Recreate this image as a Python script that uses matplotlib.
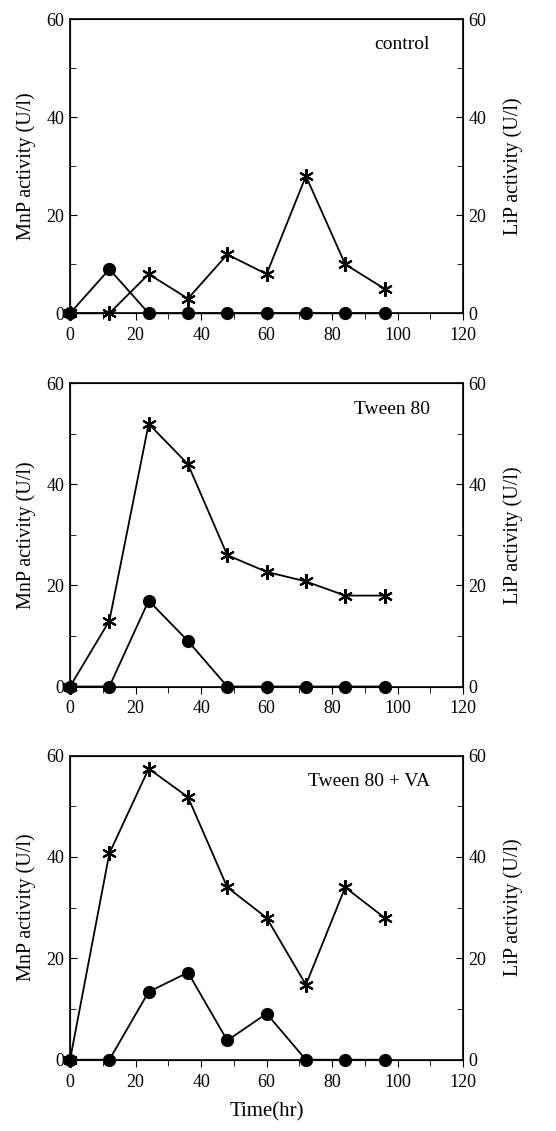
import matplotlib.pyplot as plt
from matplotlib.ticker import MultipleLocator

plt.rcParams['font.family'] = ['Liberation Serif', 'DejaVu Serif']

time = [0, 12, 24, 36, 48, 60, 72, 84, 96]

# control
mnp_control = [0, 9, 0, 0, 0, 0, 0, 0, 0]
lip_control = [0, 0, 8, 3, 12, 8, 28, 10, 5]

# Tween 80
mnp_tween = [0, 0, 17, 9, 0, 0, 0, 0, 0]
lip_tween = [0, 13, 52, 44, 26, 22.7, 20.8, 18, 18]

# Tween 80 + VA
mnp_va = [0, 0, 13.4, 17.2, 3.8, 9.1, 0, 0, 0]
lip_va = [0, 40.7, 57.4, 51.8, 34, 28, 14.8, 34, 28]

panels = [("control", mnp_control, lip_control),
          ("Tween 80", mnp_tween, lip_tween),
          ("Tween 80 + VA", mnp_va, lip_va)]

fig = plt.figure(figsize=(5.56, 11.31), dpi=100)

# axes boxes in figure fractions (left, bottom, width, height)
boxes = [[0.126, 0.723, 0.707, 0.260],
         [0.126, 0.393, 0.707, 0.268],
         [0.126, 0.063, 0.707, 0.269]]

asterisk = (6, 2, 0)

for (name, mnp, lip), box in zip(panels, boxes):
    ax = fig.add_axes(box)
    ax.plot(time, lip, color='black', lw=1.3, marker=asterisk,
            markersize=10.5, markeredgewidth=1.5, clip_on=False, zorder=3)
    ax.plot(time, mnp, color='black', lw=1.3, marker='o',
            markersize=8.5, clip_on=False, zorder=4)
    ax.set_xlim(0, 120)
    ax.set_ylim(0, 60)
    ax.xaxis.set_major_locator(MultipleLocator(20))
    ax.xaxis.set_minor_locator(MultipleLocator(10))
    ax.yaxis.set_major_locator(MultipleLocator(20))
    ax.yaxis.set_minor_locator(MultipleLocator(10))
    ax.tick_params(axis='x', which='both', direction='out', labelsize=13, pad=5)
    ax.tick_params(axis='x', which='major', length=5)
    ax.tick_params(axis='x', which='minor', length=4)
    ax.tick_params(axis='y', which='both', direction='in', labelsize=13, pad=4)
    ax.tick_params(axis='y', which='major', length=5)
    ax.tick_params(axis='y', which='minor', length=4)
    ax.set_ylabel("MnP activity (U/l)", fontsize=14.5, labelpad=8)
    for sp in ax.spines.values():
        sp.set_linewidth(1.2)
    ax.text(0.915, 0.915, name, transform=ax.transAxes, ha='right',
            va='center', fontsize=14)

    ax2 = ax.twinx()
    ax2.set_ylim(0, 60)
    ax2.yaxis.set_major_locator(MultipleLocator(20))
    ax2.yaxis.set_minor_locator(MultipleLocator(10))
    ax2.tick_params(axis='y', which='both', direction='in', labelsize=13, pad=4)
    ax2.tick_params(axis='y', which='major', length=5)
    ax2.tick_params(axis='y', which='minor', length=4)
    ax2.set_ylabel("LiP activity (U/l)", fontsize=14.5, labelpad=12)

ax.set_xlabel("Time(hr)", fontsize=15, labelpad=8)

fig.savefig("out.png", dpi=100)
